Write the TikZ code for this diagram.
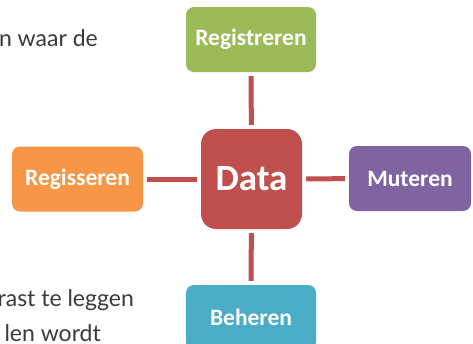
\documentclass[tikz,border=0pt]{standalone}
\usepackage{fontspec}
\setmainfont{Lato}
\newfontfamily\boxfont{Carlito}
\usepackage{tikz}

\definecolor{datared}{HTML}{C0504D}
\definecolor{regigreen}{HTML}{9BBB59}
\definecolor{mutpurple}{HTML}{8064A2}
\definecolor{regiorange}{HTML}{F79646}
\definecolor{behteal}{HTML}{4BACC6}
\definecolor{bodytext}{HTML}{3A3A3A}

\begin{document}
\begin{tikzpicture}[x=1pt,y=-1pt,
    box/.style={rounded corners=8pt, inner sep=0pt, text=white,
        font=\boxfont\bfseries\fontsize{23.5}{26}\selectfont,
        minimum width=130pt, minimum height=65pt},
    bodyline/.style={anchor=base east, text=bodytext, inner sep=0pt,
        font=\fontsize{23}{27}\selectfont},
    link/.style={datared, line width=5pt, shorten <=4pt, shorten >=4pt}]
        \useasboundingbox (0,0) rectangle (473,343);
        \clip (0,0) rectangle (473,343);

        % tekst van de pagina achter het schema
        \node[bodyline] (t1) at (98,46) {n waar de};
        \node[bodyline] (t2) at (134,306) {rast te leggen};
        \node[bodyline] (t3) at (101,341) {len wordt};

        \node[box, fill=datared, rounded corners=15pt, minimum width=101pt, minimum height=100pt,
              font=\boxfont\bfseries\fontsize{37}{40}\selectfont] (data) at (251.5,179) {Data};
        \node[box, fill=regigreen] (registreren) at (251,39.5) {Registreren};
        \node[box, fill=regiorange, minimum width=131pt] (regisseren) at (77.5,179) {Regisseren};
        \node[box, fill=mutpurple, minimum width=122pt] (muteren) at (410,178.5) {Muteren};
        \node[box, fill=behteal] (beheren) at (251,317.5) {Beheren};

        \draw[link] (data) -- (registreren);
        \draw[link] (data) -- (regisseren);
        \draw[link] (data) -- (muteren);
        \draw[link] (data) -- (beheren);

    \end{tikzpicture}
\end{document}
